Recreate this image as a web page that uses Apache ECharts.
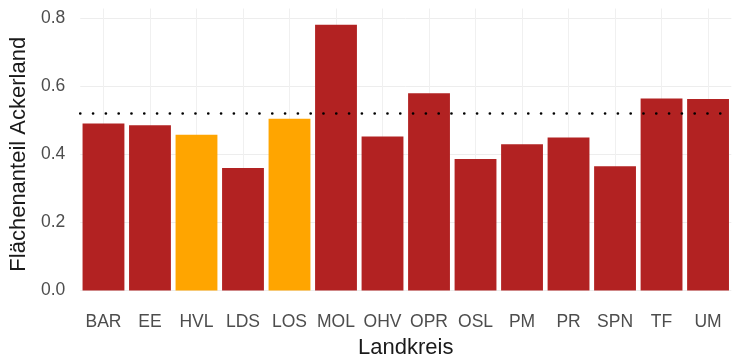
<!DOCTYPE html>
<html>
<head>
<meta charset="utf-8">
<script src="https://cdn.jsdelivr.net/npm/echarts@6/dist/echarts.min.js"></script>
<style>html,body{margin:0;padding:0;background:#fff}#c{width:735px;height:364px}</style>
</head>
<body>
<div id="c"></div>
<script>
const categories = ['BAR','EE','HVL','LDS','LOS','MOL','OHV','OPR','OSL','PM','PR','SPN','TF','UM'];
const values = [0.490,0.485,0.457,0.360,0.504,0.780,0.452,0.579,0.386,0.429,0.449,0.365,0.564,0.562];
const highlighted = ['HVL','LOS'];
const referenceValue = 0.52;
const yTicks = [0, 0.2, 0.4, 0.6, 0.8];

const RED = '#B22222', ORANGE = '#FFA500';
const chart = echarts.init(document.getElementById('c'), null, {renderer:'canvas'});
chart.setOption({
  animation:false,
  textStyle:{fontFamily:'Liberation Sans'},
  grid:{left:77.5, right:3.7, top:18, bottom:68, containLabel:false},
  xAxis:{
    type:'category', data:categories,
    name:'Landkreis', nameLocation:'middle', nameGap:46.5,
    nameTextStyle:{fontSize:22, color:'#1a1a1a', fontFamily:'Liberation Sans'},
    axisLine:{show:false},
    axisTick:{show:true, alignWithLabel:true, inside:true, length:282, lineStyle:{color:'#f0f0f0', width:1}},
    axisLabel:{fontSize:17.5, color:'#4d4d4d', margin:22.5, interval:0},
    splitLine:{show:false}
  },
  yAxis:{
    type:'value', min:0, max:0.8, interval:0.2,
    name:'Flächenanteil Ackerland', nameLocation:'middle', nameGap:46, nameRotate:90,
    nameTextStyle:{fontSize:22, color:'#1a1a1a', fontFamily:'Liberation Sans'},
    axisLine:{show:false}, axisTick:{show:false},
    axisLabel:{fontSize:17.5, color:'#4d4d4d', margin:15, formatter:v=>{
      const t = yTicks.find(x=>Math.abs(x-v)<1e-9); return t===undefined?'':t.toFixed(1);}},
    splitLine:{lineStyle:{color:'#ededed', width:1}}
  },
  series:[{
    type:'bar',
    data:values.map((v,i)=>({value:v, itemStyle:{color: highlighted.includes(categories[i])?ORANGE:RED}})),
    barCategoryGap:'10%',
    z:2,
    markLine:{
      silent:true, symbol:['none','none'], label:{show:false},
      lineStyle:{color:'#000', width:2.6, type:[0.1,12.7], cap:'round'},
      data:[{yAxis:referenceValue}],
      z:5
    }
  }]
});
</script>
</body>
</html>
